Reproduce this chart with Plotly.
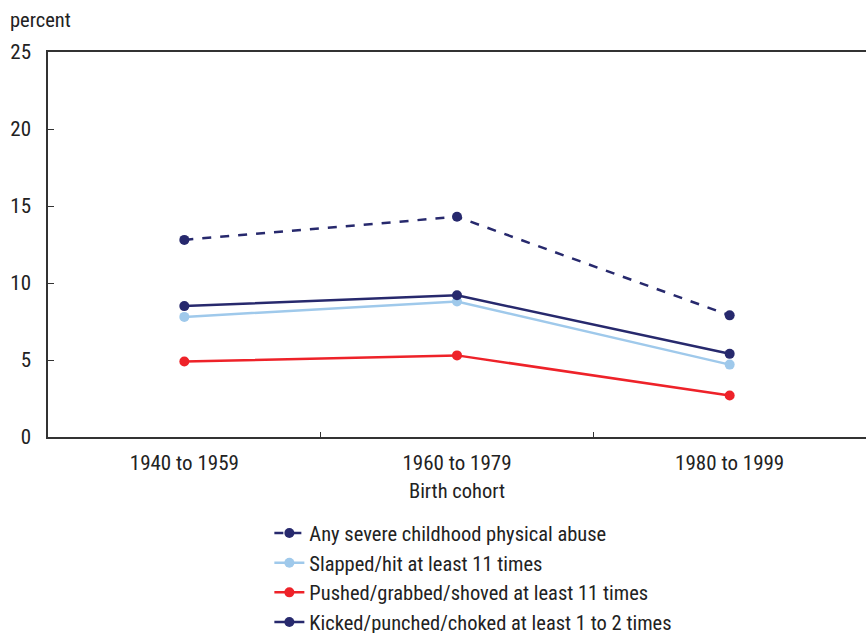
import plotly.graph_objects as go

cohorts = ["1940 to 1959", "1960 to 1979", "1980 to 1999"]
any_severe = [12.8, 14.3, 7.9]
slapped = [7.8, 8.8, 4.7]
pushed = [4.9, 5.3, 2.7]
kicked = [8.5, 9.2, 5.4]

names = [
    "Any severe childhood physical abuse",
    "Slapped/hit at least 11 times",
    "Pushed/grabbed/shoved at least 11 times",
    "Kicked/punched/choked at least 1 to 2 times",
]
series = [any_severe, slapped, pushed, kicked]
colors = ["#27296d", "#9fc9eb", "#ee2229", "#27296d"]
dashes = ["dash", "solid", "solid", "solid"]

FONT = "Liberation Sans Narrow, Arial Narrow, Roboto Condensed, Liberation Sans, sans-serif"

fig = go.Figure()
for n, s, c, d in zip(names, series, colors, dashes):
    fig.add_trace(go.Scatter(
        x=cohorts, y=s, name=n, mode="lines+markers",
        line=dict(color=c, width=2.5, dash=d),
        marker=dict(color=c, size=10),
    ))

fig.update_layout(
    width=866, height=633,
    margin=dict(l=48, r=0, t=52, b=196, autoexpand=False),
    paper_bgcolor="white", plot_bgcolor="white",
    font=dict(family=FONT, size=20, color="#222222"),
    showlegend=True,
    legend=dict(x=0.52, xanchor="center", y=-0.198, yanchor="top",
                font=dict(size=20.5), tracegroupgap=0, borderwidth=0,
                traceorder="normal"),
    xaxis=dict(
        type="category", tickson="boundaries", ticks="inside", ticklen=5,
        tickcolor="#333333", linecolor="#333333", linewidth=1.5,
        showline=True, mirror=True, showgrid=False, zeroline=False,
        range=[-0.5, 2.5], automargin=False, tickfont=dict(size=21),
        ticklabelstandoff=6,
        title=dict(text="Birth cohort", standoff=10, font=dict(size=20.5)),
    ),
    yaxis=dict(
        range=[0, 25], tickvals=[0, 5, 10, 15, 20, 25], ticks="inside",
        ticklen=6, tickcolor="#333333", linecolor="#333333", linewidth=1.5,
        showline=True, showgrid=False, zeroline=False, ticklabelstandoff=11,
        automargin=False, tickfont=dict(size=21),
    ),
    annotations=[dict(text="percent", xref="paper", yref="paper",
                      x=-40/818, y=1, xanchor="left", yanchor="bottom",
                      yshift=18, showarrow=False, font=dict(size=20.5))],
)

fig.write_html("out.html", config={"displayModeBar": False},
               post_script="document.body.style.margin='0';document.body.style.padding='0';")
